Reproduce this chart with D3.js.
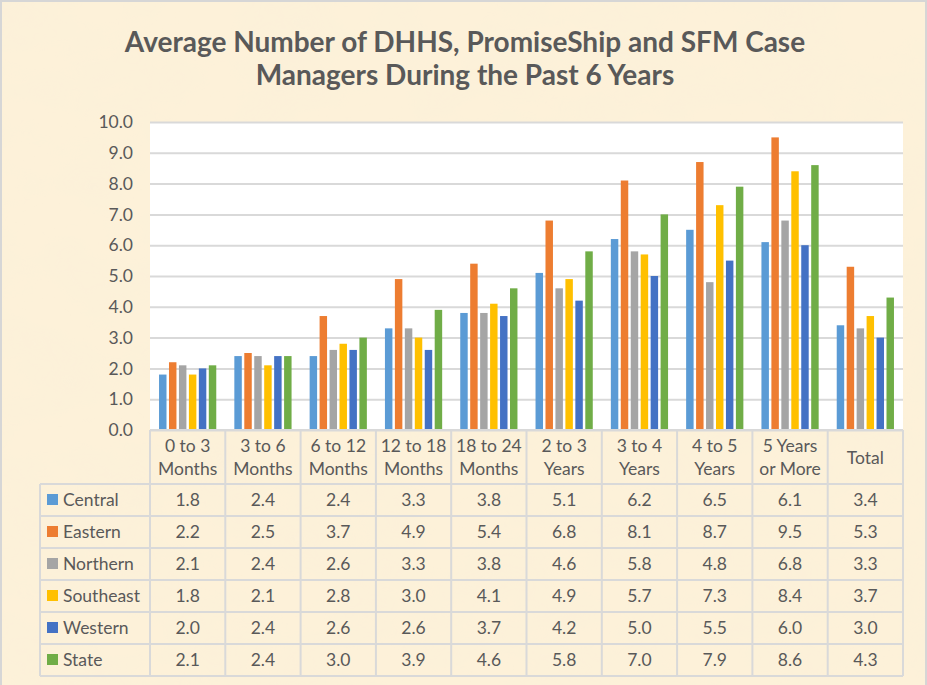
<!DOCTYPE html>
<html>
<head>
<meta charset="utf-8">
<script src="https://cdn.jsdelivr.net/npm/d3@7"></script>
<style>
  body { margin: 0; background: #fff; }
  svg { display: block; }
</style>
</head>
<body>
<div id="chart"></div>
<script>
const categories = [
  ['0 to 3', 'Months'], ['3 to 6', 'Months'], ['6 to 12', 'Months'], ['12 to 18', 'Months'],
  ['18 to 24', 'Months'], ['2 to 3', 'Years'], ['3 to 4', 'Years'], ['4 to 5', 'Years'],
  ['5 Years', 'or More'], ['Total']
];
const seriesNames = ['Central', 'Eastern', 'Northern', 'Southeast', 'Western', 'State'];
const central   = [1.8, 2.4, 2.4, 3.3, 3.8, 5.1, 6.2, 6.5, 6.1, 3.4];
const eastern   = [2.2, 2.5, 3.7, 4.9, 5.4, 6.8, 8.1, 8.7, 9.5, 5.3];
const northern  = [2.1, 2.4, 2.6, 3.3, 3.8, 4.6, 5.8, 4.8, 6.8, 3.3];
const southeast = [1.8, 2.1, 2.8, 3.0, 4.1, 4.9, 5.7, 7.3, 8.4, 3.7];
const western   = [2.0, 2.4, 2.6, 2.6, 3.7, 4.2, 5.0, 5.5, 6.0, 3.0];
const state     = [2.1, 2.4, 3.0, 3.9, 4.6, 5.8, 7.0, 7.9, 8.6, 4.3];
const yTicks = [0, 1, 2, 3, 4, 5, 6, 7, 8, 9, 10];

const seriesValues = [central, eastern, northern, southeast, western, state];
const colors = ['#5b9bd5', '#ed7d31', '#a5a5a5', '#ffc000', '#4472c4', '#70ad47'];

const W = 927, H = 685;
const plotLeft = 150, plotRight = 903, plotTop = 122, plotBottom = 430;
const headerBottom = 484, rowH = 32, legendLeft = 40;
const textColor = '#595959', lineColor = '#d9d9d9';
const font = 'Lato, "Open Sans", sans-serif';

const svg = d3.select('#chart').append('svg')
  .attr('width', W)
  .attr('height', H);

// parchment background
const defs = svg.append('defs');
const filt = defs.append('filter').attr('id', 'paper').attr('x', 0).attr('y', 0).attr('width', '100%').attr('height', '100%');
filt.append('feTurbulence').attr('type', 'fractalNoise').attr('baseFrequency', '0.012 0.02').attr('numOctaves', 3).attr('seed', 4).attr('result', 'noise');
filt.append('feColorMatrix').attr('in', 'noise').attr('type', 'matrix')
  .attr('values', '0 0 0 0 0.93  0 0 0 0 0.86  0 0 0 0 0.70  0.45 0 0 0 -0.12')
  .attr('result', 'tint');
filt.append('feComposite').attr('in', 'tint').attr('in2', 'SourceGraphic').attr('operator', 'in');

svg.append('rect').attr('width', W).attr('height', H).attr('fill', '#fdf1d9');
svg.append('rect').attr('width', W).attr('height', H).attr('fill', '#fdf1d9').attr('filter', 'url(#paper)');
svg.append('rect').attr('x', 1).attr('y', 1).attr('width', W - 2).attr('height', H + 4)
  .attr('fill', 'none').attr('stroke', '#d6d6d6').attr('stroke-width', 2);

// title
svg.append('text')
  .attr('x', 463).attr('y', 0)
  .attr('text-anchor', 'middle')
  .attr('fill', textColor)
  .style('font-family', font).style('font-weight', 'bold').style('font-size', '28px')
  .selectAll('tspan')
  .data(['Average Number of DHHS, PromiseShip and SFM Case', 'Managers During the Past 6 Years'])
  .join('tspan')
  .attr('x', 465)
  .attr('y', (d, i) => 52 + i * 33)
  .text(d => d);

// scales
const x0 = d3.scaleBand().domain(d3.range(categories.length)).range([plotLeft, plotRight]).padding(0);
const x1 = d3.scaleBand().domain(d3.range(seriesNames.length))
  .range([x0.bandwidth() * 0.12, x0.bandwidth() * 0.88]).paddingInner(0.25).paddingOuter(0);
const y = d3.scaleLinear().domain([0, 10]).range([plotBottom, plotTop]);

svg.append('rect')
  .attr('x', plotLeft).attr('y', plotTop)
  .attr('width', plotRight - plotLeft).attr('height', plotBottom - plotTop)
  .attr('fill', '#fff');

// gridlines + y labels
const yAxis = svg.append('g')
  .attr('transform', `translate(${plotLeft},0)`)
  .call(d3.axisLeft(y).tickValues(yTicks).tickFormat(d3.format('.1f')).tickSize(-(plotRight - plotLeft)).tickPadding(17));
yAxis.select('.domain').remove();
yAxis.selectAll('.tick line').attr('stroke', lineColor).attr('stroke-width', 2);
yAxis.selectAll('.tick text')
  .attr('fill', textColor)
  .style('font-family', font).style('font-size', '17.5px');

// bars
const groups = svg.append('g').selectAll('g')
  .data(categories.map((c, i) => i))
  .join('g')
  .attr('transform', i => `translate(${x0(i)},0)`);

groups.selectAll('rect')
  .data(i => seriesValues.map((vals, s) => ({ s, v: vals[i] })))
  .join('rect')
  .attr('x', d => x1(d.s))
  .attr('width', x1.bandwidth())
  .attr('y', d => y(d.v))
  .attr('height', d => plotBottom - y(d.v))
  .attr('fill', d => colors[d.s]);

// data table
const table = svg.append('g');
const lineStyle = sel => sel.attr('stroke', lineColor).attr('stroke-width', 2);
const tableBottom = headerBottom + rowH * seriesNames.length;
const tableFont = '17.5px';

// horizontal lines
table.append('line').call(lineStyle).attr('x1', plotLeft).attr('x2', plotRight).attr('y1', plotBottom).attr('y2', plotBottom);
table.append('line').call(lineStyle).attr('x1', legendLeft).attr('x2', plotRight).attr('y1', headerBottom).attr('y2', headerBottom);
seriesNames.forEach((s, r) => {
  const yy = headerBottom + rowH * (r + 1);
  table.append('line').call(lineStyle).attr('x1', legendLeft).attr('x2', plotRight).attr('y1', yy).attr('y2', yy);
});
// vertical lines
d3.range(categories.length + 1).forEach(i => {
  const xx = i < categories.length ? x0(i) : plotRight;
  table.append('line').call(lineStyle).attr('x1', xx).attr('x2', xx).attr('y1', plotBottom).attr('y2', tableBottom);
});
table.append('line').call(lineStyle).attr('x1', legendLeft).attr('x2', legendLeft).attr('y1', headerBottom).attr('y2', tableBottom);

// header labels
categories.forEach((lines, i) => {
  const cx = x0(i) + x0.bandwidth() / 2;
  const t = table.append('text')
    .attr('text-anchor', 'middle')
    .attr('fill', textColor)
    .style('font-family', font).style('font-size', tableFont);
  const startY = lines.length === 2 ? 452 : 464;
  lines.forEach((l, k) => t.append('tspan').attr('x', cx).attr('y', startY + k * 23).text(l));
});

// rows
seriesNames.forEach((name, r) => {
  const cy = headerBottom + rowH * r + rowH / 2 + 6;
  table.append('rect')
    .attr('x', 47).attr('y', cy - 12).attr('width', 11).attr('height', 11)
    .attr('fill', colors[r]);
  table.append('text')
    .attr('x', 63).attr('y', cy)
    .attr('fill', textColor)
    .style('font-family', font).style('font-size', tableFont)
    .text(name);
  seriesValues[r].forEach((v, i) => {
    table.append('text')
      .attr('x', x0(i) + x0.bandwidth() / 2).attr('y', cy)
      .attr('text-anchor', 'middle')
      .attr('fill', textColor)
      .style('font-family', font).style('font-size', tableFont)
      .text(d3.format('.1f')(v));
  });
});
</script>
</body>
</html>
